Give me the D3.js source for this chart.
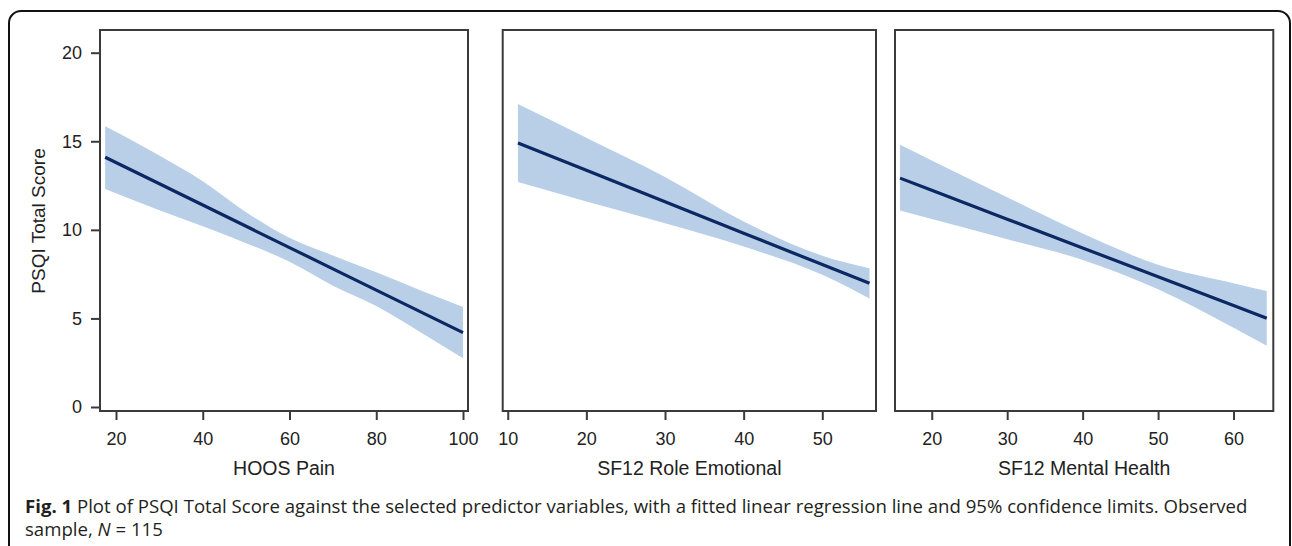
<html>
<head>
    <script src="https://d3js.org/d3.v7.min.js"></script>
    <style>
        body { margin: 0; background: #fff; }
        text { font-family: "Liberation Sans", Arial, sans-serif; fill: #222; }
        .caption { font-family: "Open Sans", "Noto Sans", sans-serif; fill: #231f20; }
    </style>
</head>

<body>
    <svg id="fig"></svg>

    <script>
        var Width = 1292, Height = 546;

        // shared y axis
        var yTicks = [0, 5, 10, 15, 20];
        var yTitle = "PSQI Total Score";

        // panel 1: HOOS Pain
        var hoosTicks = [20, 40, 60, 80, 100];
        var hoosX     = [17.5, 30, 40, 50, 60, 70, 80, 90, 100];
        var hoosFit   = [14.1, 12.6, 11.4, 10.2, 9.0, 7.8, 6.6, 5.4, 4.2];
        var hoosUpper = [15.85, 14.2, 12.75, 11.0, 9.55, 8.55, 7.6, 6.6, 5.65];
        var hoosLower = [12.3, 11.1, 10.2, 9.25, 8.2, 6.85, 5.7, 4.25, 2.75];

        // panel 2: SF12 Role Emotional
        var roleTicks = [10, 20, 30, 40, 50];
        var roleX     = [11.3, 20, 30, 40, 50, 56];
        var roleFit   = [14.9, 13.36, 11.59, 9.81, 8.04, 6.98];
        var roleUpper = [17.1, 15.2, 12.98, 10.47, 8.54, 7.83];
        var roleLower = [12.7, 11.6, 10.37, 9.06, 7.46, 6.13];

        // panel 3: SF12 Mental Health
        var mentalTicks = [20, 30, 40, 50, 60];
        var mentalX     = [15.8, 20, 30, 40, 50, 60, 64.4];
        var mentalFit   = [12.92, 12.23, 10.6, 8.98, 7.35, 5.73, 5.01];
        var mentalUpper = [14.8, 13.92, 11.84, 9.79, 8.03, 6.99, 6.55];
        var mentalLower = [11.09, 10.61, 9.47, 8.30, 6.64, 4.47, 3.46];

        var panels = [
            { title: "HOOS Pain", left: 100, right: 468, domain: [16.31, 101.15],
              ticks: hoosTicks, xs: hoosX, fit: hoosFit, hi: hoosUpper, lo: hoosLower },
            { title: "SF12 Role Emotional", left: 502.7, right: 876, domain: [9.36, 56.83],
              ticks: roleTicks, xs: roleX, fit: roleFit, hi: roleUpper, lo: roleLower },
            { title: "SF12 Mental Health", left: 895, right: 1273.3, domain: [15.13, 65.27],
              ticks: mentalTicks, xs: mentalX, fit: mentalFit, hi: mentalUpper, lo: mentalLower }
        ];

        var PlotTop = 30, PlotBottom = 411;

        var svg = d3.select("#fig")
            .attr("width", Width)
            .attr("height", Height);

        // rounded figure border (bottom runs off the page)
        svg.append("rect")
            .attr("x", 9).attr("y", 11)
            .attr("width", 1281).attr("height", 560)
            .attr("rx", 12)
            .attr("fill", "none")
            .attr("stroke", "#111")
            .attr("stroke-width", 2);

        var y = d3.scaleLinear()
            .domain([0, 20])
            .range([407, 52.7]);

        panels.forEach(function(p, i)
        {
            var x = d3.scaleLinear()
                .domain(p.domain)
                .range([p.left, p.right]);

            var pts = p.xs.map(function(v, k){
                return { x: v, fit: p.fit[k], hi: p.hi[k], lo: p.lo[k] };
            });

            var g = svg.append("g");

            g.append("path")
                .datum(pts)
                .attr("fill", "#b9cfe8")
                .attr("d", d3.area()
                    .curve(d3.curveMonotoneX)
                    .x(function(d){ return x(d.x); })
                    .y0(function(d){ return y(d.lo); })
                    .y1(function(d){ return y(d.hi); }));

            g.append("path")
                .datum(pts)
                .attr("fill", "none")
                .attr("stroke", "#0b2862")
                .attr("stroke-width", 3.2)
                .attr("d", d3.line()
                    .x(function(d){ return x(d.x); })
                    .y(function(d){ return y(d.fit); }));

            // frame
            g.append("rect")
                .attr("x", p.left).attr("y", PlotTop)
                .attr("width", p.right - p.left)
                .attr("height", PlotBottom - PlotTop)
                .attr("fill", "none")
                .attr("stroke", "#3a3a3a")
                .attr("stroke-width", 2);

            var ax = g.append("g")
                .attr("transform", "translate(0," + PlotBottom + ")")
                .call(d3.axisBottom(x)
                    .tickValues(p.ticks)
                    .tickSize(9)
                    .tickPadding(12));
            ax.select(".domain").remove();
            ax.selectAll("line").attr("stroke", "#3a3a3a").attr("stroke-width", 2);
            ax.selectAll("text")
                .attr("font-size", 18)
                .attr("font-family", "Liberation Sans, Arial, sans-serif")
                .attr("fill", "#222");

            g.append("text")
                .attr("x", (p.left + p.right) / 2)
                .attr("y", 475)
                .attr("text-anchor", "middle")
                .attr("font-size", 19.5)
                .text(p.title);

            if (i == 0)
            {
                var ay = g.append("g")
                    .attr("transform", "translate(" + p.left + ",0)")
                    .call(d3.axisLeft(y)
                        .tickValues(yTicks)
                        .tickSize(9)
                        .tickPadding(9));
                ay.select(".domain").remove();
                ay.selectAll("line").attr("stroke", "#3a3a3a").attr("stroke-width", 2);
                ay.selectAll("text")
                    .attr("font-size", 18)
                    .attr("font-family", "Liberation Sans, Arial, sans-serif")
                    .attr("fill", "#222");

                g.append("text")
                    .attr("transform", "translate(45,221) rotate(-90)")
                    .attr("text-anchor", "middle")
                    .attr("font-size", 19)
                    .text(yTitle);
            }
        });

        // caption
        var cap1 = svg.append("text")
            .attr("class", "caption")
            .attr("x", 25).attr("y", 513)
            .attr("font-size", 18.6);
        cap1.append("tspan").attr("font-weight", "bold").text("Fig. 1");
        cap1.append("tspan").text(" Plot of PSQI Total Score against the selected predictor variables, with a fitted linear regression line and 95% confidence limits. Observed");

        var cap2 = svg.append("text")
            .attr("class", "caption")
            .attr("x", 25).attr("y", 536)
            .attr("font-size", 18.6);
        cap2.append("tspan").text("sample, ");
        cap2.append("tspan").attr("font-style", "italic").text("N");
        cap2.append("tspan").text(" = 115");
    </script>
</body>
</html>
